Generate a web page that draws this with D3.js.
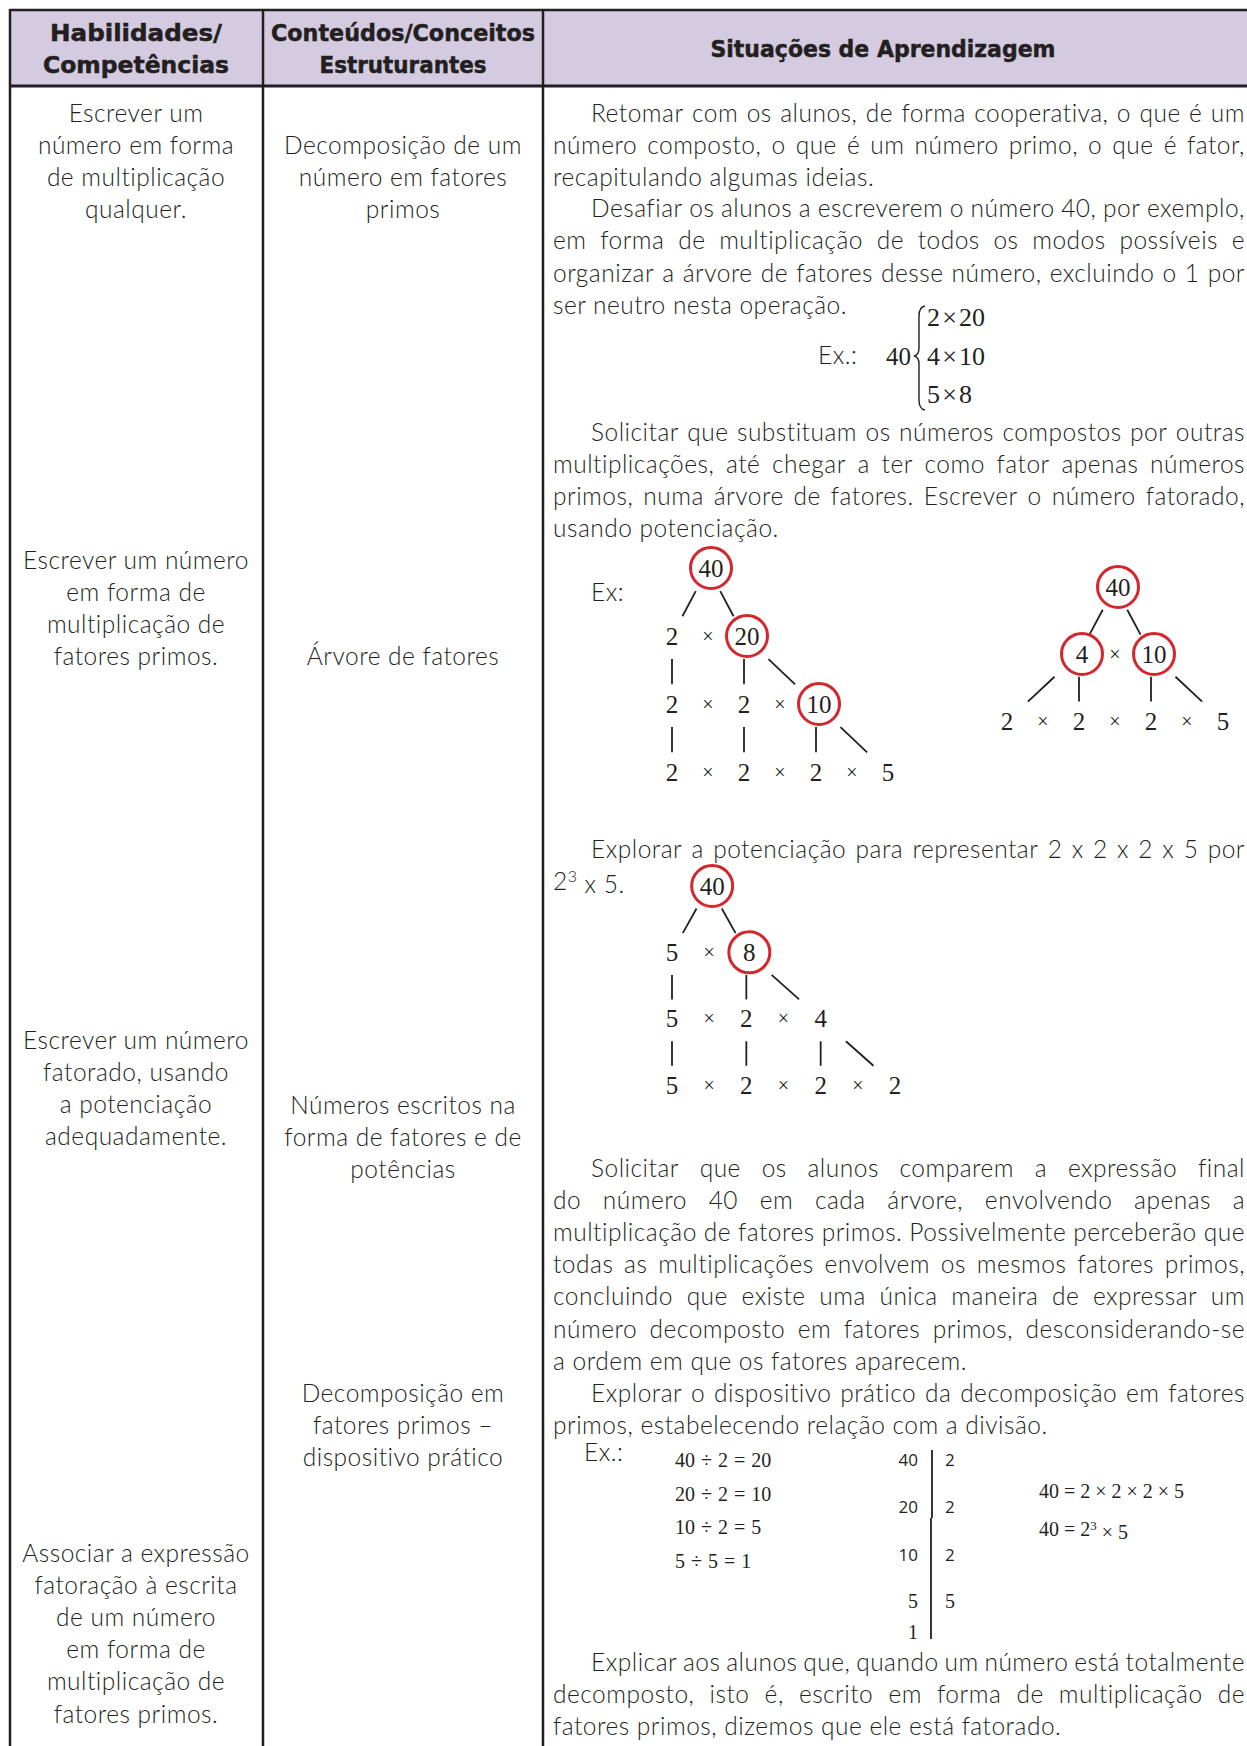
<!DOCTYPE html>
<meta charset="utf-8">
<head>
  <title>Decomposição em fatores primos</title>
</head>

<style>
body { margin: 0; background: #fff; }
text { fill: #231f20; }
.body { font-family: Lato, "Open Sans", sans-serif; font-weight: 300; font-size: 24.5px; letter-spacing: 0.5px; }
.head { font-family: "DejaVu Sans", sans-serif; font-weight: 700; font-size: 23px; stroke: #231f20; stroke-width: 0.5; }
.math { font-family: "Liberation Serif", "Times New Roman", serif; }
.sans { font-family: "Open Sans", sans-serif; }
.grid { stroke: #231f20; stroke-width: 2.5; }
.ramo { stroke: #231f20; stroke-width: 1.8; }
.circ { fill: none; stroke: #d6262d; stroke-width: 3; }
</style>

<body>
  <svg width="1247" height="1746"></svg>

  <script src="https://d3js.org/d3.v7.min.js"></script>
  <script>
// ---- conteudo ----
var cabecalhos = [
  ["Habilidades/", "Competências"],
  ["Conteúdos/Conceitos", "Estruturantes"],
  ["Situações de Aprendizagem"]
];

var habilidades = [
  ["Escrever um", "número em forma", "de multiplicação", "qualquer."],
  ["Escrever um número", "em forma de", "multiplicação de", "fatores primos."],
  ["Escrever um número", "fatorado, usando", "a potenciação", "adequadamente."],
  ["Associar a expressão", "fatoração à escrita", "de um número", "em forma de", "multiplicação de", "fatores primos."]
];

var conteudos = [
  ["Decomposição de um", "número em fatores", "primos"],
  ["Árvore de fatores"],
  ["Números escritos na", "forma de fatores e de", "potências"],
  ["Decomposição em", "fatores primos –", "dispositivo prático"]
];

var situacoes = [
  ["Retomar com os alunos, de forma cooperativa, o que é um",
   "número composto, o que é um número primo, o que é fator,",
   "recapitulando algumas ideias."],
  ["Desafiar os alunos a escreverem o número 40, por exemplo,",
   "em forma de multiplicação de todos os modos possíveis e",
   "organizar a árvore de fatores desse número, excluindo o 1 por",
   "ser neutro nesta operação."],
  ["Solicitar que substituam os números compostos por outras",
   "multiplicações, até chegar a ter como fator apenas números",
   "primos, numa árvore de fatores. Escrever o número fatorado,",
   "usando potenciação."],
  ["Explorar a potenciação para representar 2 x 2 x 2 x 5 por",
   "2³ x 5."],
  ["Solicitar que os alunos comparem a expressão final",
   "do número 40 em cada árvore, envolvendo apenas a",
   "multiplicação de fatores primos. Possivelmente perceberão que",
   "todas as multiplicações envolvem os mesmos fatores primos,",
   "concluindo que existe uma única maneira de expressar um",
   "número decomposto em fatores primos, desconsiderando-se",
   "a ordem em que os fatores aparecem."],
  ["Explorar o dispositivo prático da decomposição em fatores",
   "primos, estabelecendo relação com a divisão."],
  ["Explicar aos alunos que, quando um número está totalmente",
   "decomposto, isto é, escrito em forma de multiplicação de",
   "fatores primos, dizemos que ele está fatorado."]
];

var numero = 40;
var pares = [[2, 20], [4, 10], [5, 8]];
var divisoes = [[40, 2, 20], [20, 2, 10], [10, 2, 5], [5, 5, 1]];

// arvores: linhas de [coluna, rotulo, circulado]
var arvore1 = [
  [[1, "40", true]],
  [[0, "2"], [1, "×"], [2, "20", true]],
  [[0, "2"], [1, "×"], [2, "2"], [3, "×"], [4, "10", true]],
  [[0, "2"], [1, "×"], [2, "2"], [3, "×"], [4, "2"], [5, "×"], [6, "5"]]
];
var ramos1 = [[0,1,1,0],[0,1,1,2],[1,0,2,0],[1,2,2,2],[1,2,2,4],[2,0,3,0],[2,2,3,2],[2,4,3,4],[2,4,3,6]];

var arvore2 = [
  [[3, "40", true]],
  [[2, "4", true], [3, "×"], [4, "10", true]],
  [[0, "2"], [1, "×"], [2, "2"], [3, "×"], [4, "2"], [5, "×"], [6, "5"]]
];
var ramos2 = [[0,3,1,2],[0,3,1,4],[1,2,2,0],[1,2,2,2],[1,4,2,4],[1,4,2,6]];

var arvore3 = [
  [[1, "40", true]],
  [[0, "5"], [1, "×"], [2, "8", true]],
  [[0, "5"], [1, "×"], [2, "2"], [3, "×"], [4, "4"]],
  [[0, "5"], [1, "×"], [2, "2"], [3, "×"], [4, "2"], [5, "×"], [6, "2"]]
];
var ramos3 = [[0,1,1,0],[0,1,1,2],[1,0,2,0],[1,2,2,2],[1,2,2,4],[2,0,3,0],[2,2,3,2],[2,4,3,4],[2,4,3,6]];

// ---- layout ----
var W = 1247, H = 1746;
var colX = [10, 263, 543, 1260];
var headTop = 10, headBot = 86;
var pitch = 32.1, base = 8;
var txtL = 553, txtR = 1245, indent = 38;

var svg = d3.select("svg");

svg.append("rect").attr("x", colX[0]).attr("y", headTop)
  .attr("width", colX[3] - colX[0]).attr("height", headBot - headTop)
  .attr("fill", "#d4cbe1");

svg.append("line").attr("class", "grid").attr("x1", colX[0]).attr("x2", W)
  .attr("y1", headTop).attr("y2", headTop);
svg.append("line").attr("class", "grid").attr("x1", colX[0]).attr("x2", W)
  .attr("y1", headBot).attr("y2", headBot).style("stroke-width", 3.2);
svg.selectAll("line.col").data(colX.slice(0, 3)).enter().append("line")
  .attr("class", "grid col")
  .attr("x1", d => d).attr("x2", d => d)
  .attr("y1", headTop - 1).attr("y2", H);

// cabecalho
var headCx = [136, 403, 883];
var headY = [[41, 73], [41, 73], [57]];
var headW = [[172, 186], [264, 167], [345]];
cabecalhos.forEach(function(ls, i) {
  ls.forEach(function(l, j) {
    svg.append("text").attr("class", "head")
      .attr("x", headCx[i]).attr("y", headY[i][j])
      .attr("text-anchor", "middle")
      .attr("textLength", headW[i][j]).attr("lengthAdjust", "spacingAndGlyphs")
      .text(l);
  });
});

function rich(sel, str) {
  var parts = str.split("³");
  parts.forEach(function(p, i) {
    if (i > 0) {
      sel.append("tspan").attr("dy", "-0.45em").style("font-size", "0.65em").text("3");
      sel.append("tspan").attr("dy", "0.45em").text(p);
    } else {
      sel.append("tspan").text(p);
    }
  });
  return sel;
}

// colunas centralizadas
function centrado(blocos, cx, ys) {
  blocos.forEach(function(ls, i) {
    ls.forEach(function(l, j) {
      svg.append("text").attr("class", "body")
        .attr("x", cx).attr("y", ys[i] + j * pitch + base)
        .attr("text-anchor", "middle").text(l);
    });
  });
}
centrado(habilidades, 136, [113.6, 561, 1041, 1554]);
centrado(conteudos, 403, [145.9, 657, 1105.6, 1394]);

// texto justificado
function linha(text, x, y, justify) {
  if (!justify) {
    rich(svg.append("text").attr("class", "body").attr("x", x).attr("y", y), text);
    return;
  }
  var words = text.split(" ");
  var nodes = words.map(w => svg.append("text").attr("class", "body").attr("y", y).text(w));
  var widths = nodes.map(n => n.node().getComputedTextLength());
  var gap = (txtR - x - d3.sum(widths)) / (words.length - 1);
  var cx = x;
  nodes.forEach(function(n, i) { n.attr("x", cx); cx += widths[i] + gap; });
}
var parY = [113.6, 209.3, 433, 849.5, 1169, 1394, 1663];
situacoes.forEach(function(ls, i) {
  ls.forEach(function(l, j) {
    linha(l, j === 0 ? txtL + indent : txtL, parY[i] + j * pitch + base, j < ls.length - 1);
  });
});

// 40 { 2x20, 4x10, 5x8
var py = d3.scaleLinear().domain([0, pares.length - 1]).range([317, 394]);
svg.append("text").attr("class", "body").attr("x", 818).attr("y", py(1) + base).text("Ex.:");
svg.append("text").attr("class", "math").style("font-size", "25px")
  .attr("x", 911).attr("y", py(1) + 9).attr("text-anchor", "end").text(numero);
svg.append("path")
  .attr("d", "M925,306 Q919,307 919,316 L919,348 Q919,355 914,356 Q919,357 919,364 L919,400 Q919,409 925,410")
  .attr("fill", "none").attr("stroke", "#231f20").attr("stroke-width", 1.4);
svg.selectAll("text.par").data(pares).enter().append("text")
  .attr("class", "math par").style("font-size", "26px")
  .attr("x", 927).attr("y", (d, i) => py(i) + 9)
  .text(d => d[0] + "\u200a×\u200a" + d[1]);

// arvores
function arvore(dados, ramos, x, y) {
  var g = svg.append("g");
  g.selectAll("line").data(ramos).enter().append("line").attr("class", "ramo")
    .each(function(r) {
      var x0 = x(r[1]), y0 = y(r[0]), x1 = x(r[3]), y1 = y(r[2]);
      var a = 0.34, b = 0.71;
      d3.select(this)
        .attr("x1", x0 + (x1 - x0) * a).attr("y1", y0 + (y1 - y0) * a)
        .attr("x2", x0 + (x1 - x0) * b).attr("y2", y0 + (y1 - y0) * b);
    });
  dados.forEach(function(row, i) {
    row.forEach(function(n) {
      var cx = x(n[0]) + (n[2] ? 3 : 0);
      if (n[2]) g.append("circle").attr("class", "circ").attr("cx", cx).attr("cy", y(i)).attr("r", 20.5);
      g.append("text").attr("class", "math")
        .style("font-size", n[1] === "×" ? "20px" : "25px")
        .attr("x", cx).attr("y", y(i)).attr("dy", "0.34em")
        .attr("text-anchor", "middle").text(n[1]);
    });
  });
}
svg.append("text").attr("class", "body").attr("x", 591).attr("y", 593 + base).text("Ex:");
arvore(arvore1, ramos1,
  d3.scaleLinear().domain([0, 6]).range([672, 888]),
  d3.scaleLinear().domain([0, 3]).range([568, 772]));
arvore(arvore2, ramos2,
  d3.scaleLinear().domain([0, 6]).range([1007, 1223]),
  d3.scaleLinear().domain([0, 2]).range([587, 721]));
arvore(arvore3, ramos3,
  d3.scaleLinear().domain([0, 6]).range([672, 895]),
  d3.scaleLinear().domain([0, 3]).range([886, 1085]));

// dispositivo pratico
svg.append("text").attr("class", "body").attr("x", 584).attr("y", 1453 + base).text("Ex.:");
var dy = d3.scaleLinear().domain([0, divisoes.length - 1]).range([1460, 1561]);
svg.selectAll("text.div").data(divisoes).enter().append("text")
  .attr("class", "math div").style("font-size", "20px").style("word-spacing", "1px")
  .attr("x", 675).attr("y", (d, i) => dy(i) + 7)
  .text(d => d[0] + " ÷ " + d[1] + " = " + d[2]);

var ry = d3.scaleLinear().domain([0, divisoes.length - 1]).range([1460, 1602]);
var quocientes = divisoes.map(d => d[0]).concat([divisoes[divisoes.length - 1][2]]);
var qy = i => i < divisoes.length ? ry(i) : ry(divisoes.length - 1) + 31;
svg.selectAll("text.q").data(quocientes).enter().append("text")
  .attr("class", d => d >= 10 ? "sans q" : "math q")
  .style("font-size", d => d >= 10 ? "17px" : "20px")
  .attr("x", 918).attr("y", (d, i) => qy(i) + 6).attr("text-anchor", "end").text(d => d);
svg.selectAll("text.d").data(divisoes).enter().append("text")
  .attr("class", d => d[1] === 2 ? "sans d" : "math d")
  .style("font-size", d => d[1] === 2 ? "17px" : "20px")
  .attr("x", 945).attr("y", (d, i) => ry(i) + 6).text(d => d[1]);
svg.append("line").attr("x1", 932).attr("x2", 932).attr("y1", 1450).attr("y2", 1518)
  .attr("stroke", "#231f20").attr("stroke-width", 1.8);
svg.append("line").attr("x1", 931).attr("x2", 931).attr("y1", 1518).attr("y2", 1639)
  .attr("stroke", "#231f20").attr("stroke-width", 1.8);

var fatores = divisoes.map(d => d[1]);
var doisN = fatores.filter(f => f === 2).length;
var outros = fatores.filter(f => f !== 2);
svg.append("text").attr("class", "math").style("font-size", "20px")
  .attr("x", 1039).attr("y", 1498).text(numero + " = " + fatores.join(" × "));
rich(svg.append("text").attr("class", "math").style("font-size", "20px")
  .attr("x", 1039).attr("y", 1536), numero + " = 2" + (doisN === 3 ? "³" : doisN) + " × " + outros.join(" × "));
  </script>
</body>
</html>
